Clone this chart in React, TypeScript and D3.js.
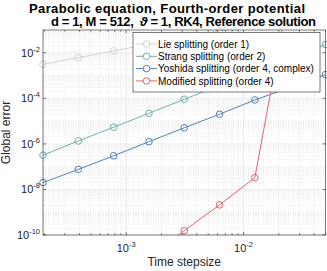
import React from "react";
import * as d3 from "d3";

// time step sizes (x) and global errors (y)
const stepSizes = [1.953e-4, 3.906e-4, 7.8125e-4, 1.5625e-3, 3.125e-3, 6.25e-3, 1.25e-2, 2.5e-2, 5e-2];
const lieErr = [3.1e-3, 6.1e-3, 1.2e-2, 2.4e-2, 4.8e-2, 9.5e-2, 0.19, null, null];
const strangErr = [3.2e-7, 1.35e-6, 5.4e-6, 2.2e-5, 9.1e-5, 3.6e-4, 1.45e-3, 5.8e-3, 2.3e-2];
const yoshidaErr = [2.0e-8, 7.6e-8, 3.0e-7, 1.25e-6, 5.1e-6, 2.0e-5, 8.5e-5, 3.0e-4, 1.1e-3];
const modifiedErr = [null, null, null, 1.2e-11, 1.55e-10, 2.1e-9, 3.3e-8, 8, null];

const seriesNames = [
  "Lie splitting (order 1)",
  "Strang splitting (order 2)",
  "Yoshida splitting (order 4, complex)",
  "Modified splitting (order 4)",
];
const seriesColors = ["#d2d2d2", "#6eb0ae", "#4f82b2", "#e0626a"];
const seriesData = [lieErr, strangErr, yoshidaErr, modifiedErr];

const yTickExps = [-10, -8, -6, -4, -2];
const xTickExps = [-3, -2];
const titleLines = ["Parabolic equation, Fourth-order potential", "d = 1, M = 512,  ϑ = 1, RK4, Reference solution"];

const FONT = "'Liberation Sans', Arial, Helvetica, sans-serif";

export default function App() {
  const svgRef = React.useRef<SVGSVGElement>(null);

  React.useEffect(() => {
    const width = 327;
    const height = 271;
    const m = { left: 43, right: 325.5, top: 30, bottom: 235 };

    const svg = d3.select(svgRef.current!).attr("width", width).attr("height", height);
    svg.selectAll("*").remove();

    const x = d3.scaleLog().domain([stepSizes[0], stepSizes[stepSizes.length - 1]]).range([m.left, m.right]);
    const y = d3.scaleLog().domain([1e-10, 1e-1]).range([m.bottom, m.top]);

    svg.append("rect").attr("x", m.left).attr("y", m.top).attr("width", m.right - m.left)
      .attr("height", m.bottom - m.top).attr("fill", "#fff");

    svg.append("defs").append("clipPath").attr("id", "plotclip").append("rect")
      .attr("x", m.left).attr("y", m.top).attr("width", m.right - m.left).attr("height", m.bottom - m.top);

    // minor / major values
    const yMinor: number[] = [];
    for (let e = -10; e < -1; e++) for (let k = 1; k < 10; k++) yMinor.push(k * Math.pow(10, e));
    const xMinor: number[] = [];
    for (let e = -4; e < -1; e++) for (let k = 1; k < 10; k++) {
      const v = k * Math.pow(10, e);
      if (v >= stepSizes[0] && v <= stepSizes[stepSizes.length - 1]) xMinor.push(v);
    }

    const grid = svg.append("g");
    // minor grid (dotted)
    grid.selectAll(".ym").data(yMinor.filter((v) => !yTickExps.some((e) => Math.abs(v - Math.pow(10, e)) < 1e-14)))
      .enter().append("line")
      .attr("x1", m.left).attr("x2", m.right)
      .attr("y1", (d) => y(d)).attr("y2", (d) => y(d))
      .attr("stroke", "#d6d6d6").attr("stroke-width", 0.6).attr("stroke-dasharray", "1,1.5");
    grid.selectAll(".xm").data(xMinor)
      .enter().append("line")
      .attr("y1", m.top).attr("y2", m.bottom)
      .attr("x1", (d) => x(d)).attr("x2", (d) => x(d))
      .attr("stroke", "#d6d6d6").attr("stroke-width", 0.6).attr("stroke-dasharray", "1,1.5");
    // major grid
    grid.selectAll(".yM").data(yTickExps).enter().append("line")
      .attr("x1", m.left).attr("x2", m.right)
      .attr("y1", (e) => y(Math.pow(10, e))).attr("y2", (e) => y(Math.pow(10, e)))
      .attr("stroke", "#e3e3e3").attr("stroke-width", 0.6);
    grid.selectAll(".xM").data(xTickExps).enter().append("line")
      .attr("y1", m.top).attr("y2", m.bottom)
      .attr("x1", (e) => x(Math.pow(10, e))).attr("x2", (e) => x(Math.pow(10, e)))
      .attr("stroke", "#e3e3e3").attr("stroke-width", 0.6);

    // series
    const plot = svg.append("g");
    seriesData.forEach((vals, i) => {
      const pts = stepSizes.map((s, j) => [s, vals[j]] as [number, number | null]).filter((p) => p[1] !== null) as [number, number][];
      const line = d3.line<[number, number]>().x((d) => x(d[0])).y((d) => y(d[1]));
      plot.append("path").datum(pts).attr("d", line).attr("fill", "none")
        .attr("stroke", seriesColors[i]).attr("stroke-width", 1).attr("clip-path", "url(#plotclip)");
      plot.selectAll(null).data(pts.filter((p) => p[1] >= 1e-10 && p[1] <= 1e-1)).enter().append("circle")
        .attr("cx", (d) => x(d[0])).attr("cy", (d) => y(d[1])).attr("r", 3.3)
        .attr("fill", "none").attr("stroke", seriesColors[i]).attr("stroke-width", 1);
    });

    // axes box and ticks
    const axisColor = "#262626";
    const axes = svg.append("g");
    axes.append("rect").attr("x", m.left).attr("y", m.top).attr("width", m.right - m.left)
      .attr("height", m.bottom - m.top).attr("fill", "none").attr("stroke", axisColor).attr("stroke-width", 0.6);
    xMinor.forEach((v) => {
      const major = xTickExps.some((e) => Math.abs(v - Math.pow(10, e)) < 1e-12);
      const len = major ? 3 : 1.8;
      axes.append("line").attr("x1", x(v)).attr("x2", x(v)).attr("y1", m.bottom).attr("y2", m.bottom - len)
        .attr("stroke", axisColor).attr("stroke-width", 0.6);
      axes.append("line").attr("x1", x(v)).attr("x2", x(v)).attr("y1", m.top).attr("y2", m.top + len)
        .attr("stroke", axisColor).attr("stroke-width", 0.6);
    });
    yTickExps.forEach((e) => {
      const yy = y(Math.pow(10, e));
      axes.append("line").attr("x1", m.left).attr("x2", m.left + 3).attr("y1", yy).attr("y2", yy)
        .attr("stroke", axisColor).attr("stroke-width", 0.6);
      axes.append("line").attr("x1", m.right).attr("x2", m.right - 3).attr("y1", yy).attr("y2", yy)
        .attr("stroke", axisColor).attr("stroke-width", 0.6);
    });

    // tick labels
    yTickExps.forEach((e) => {
      const t = axes.append("text").attr("x", m.left - 3).attr("y", y(Math.pow(10, e)) + 4)
        .attr("text-anchor", "end").attr("font-family", FONT).attr("font-size", 11).attr("fill", axisColor);
      t.append("tspan").text("10");
      t.append("tspan").attr("dy", -5).attr("font-size", 7.5).text(String(e));
    });
    xTickExps.forEach((e) => {
      const t = axes.append("text").attr("x", x(Math.pow(10, e))).attr("y", m.bottom + 17)
        .attr("text-anchor", "middle").attr("font-family", FONT).attr("font-size", 11).attr("fill", axisColor);
      t.append("tspan").text("10");
      t.append("tspan").attr("dy", -5).attr("font-size", 7.5).text(String(e));
    });

    // axis labels
    svg.append("text").attr("x", (m.left + m.right) / 2).attr("y", 266).attr("text-anchor", "middle")
      .attr("font-family", FONT).attr("font-size", 12).attr("fill", axisColor).text("Time stepsize");
    svg.append("text").attr("transform", `translate(9.5, ${(m.top + m.bottom) / 2}) rotate(-90)`)
      .attr("text-anchor", "middle").attr("font-family", FONT).attr("font-size", 12).attr("fill", axisColor)
      .text("Global error");

    // title
    svg.append("text").attr("x", 167).attr("y", 12.5).attr("text-anchor", "middle")
      .attr("font-family", FONT).attr("font-size", 13).attr("font-weight", "bold").attr("fill", "#000")
      .attr("textLength", 276).attr("lengthAdjust", "spacing")
      .text(titleLines[0]);
    const t2 = svg.append("text").attr("x", 183.5).attr("y", 26).attr("text-anchor", "middle")
      .attr("font-family", FONT).attr("font-size", 13).attr("font-weight", "bold").attr("fill", "#000")
      .attr("textLength", 265).attr("lengthAdjust", "spacing")
      .attr("xml:space", "preserve");
    const [before, after] = titleLines[1].split("ϑ");
    t2.append("tspan").text(before);
    t2.append("tspan").attr("font-style", "italic").text("ϑ");
    t2.append("tspan").text(after);

    // legend
    const lg = svg.append("g");
    lg.append("rect").attr("x", 133).attr("y", 32.5).attr("width", 187).attr("height", 59.5)
      .attr("fill", "#fff").attr("stroke", axisColor).attr("stroke-width", 0.6);
    seriesNames.forEach((name, i) => {
      const yy = 44 + i * 12.3;
      lg.append("line").attr("x1", 136).attr("x2", 157).attr("y1", yy).attr("y2", yy)
        .attr("stroke", seriesColors[i]).attr("stroke-width", 1);
      lg.append("circle").attr("cx", 146.5).attr("cy", yy).attr("r", 3.3)
        .attr("fill", "#fff").attr("stroke", seriesColors[i]).attr("stroke-width", 1);
      lg.append("text").attr("x", 158).attr("y", yy + 3.6).attr("font-family", FONT).attr("font-size", 10)
        .attr("fill", "#000").text(name);
    });
  }, []);

  return <svg ref={svgRef} style={{ position: "absolute", left: 0, top: 0 }} />;
}
